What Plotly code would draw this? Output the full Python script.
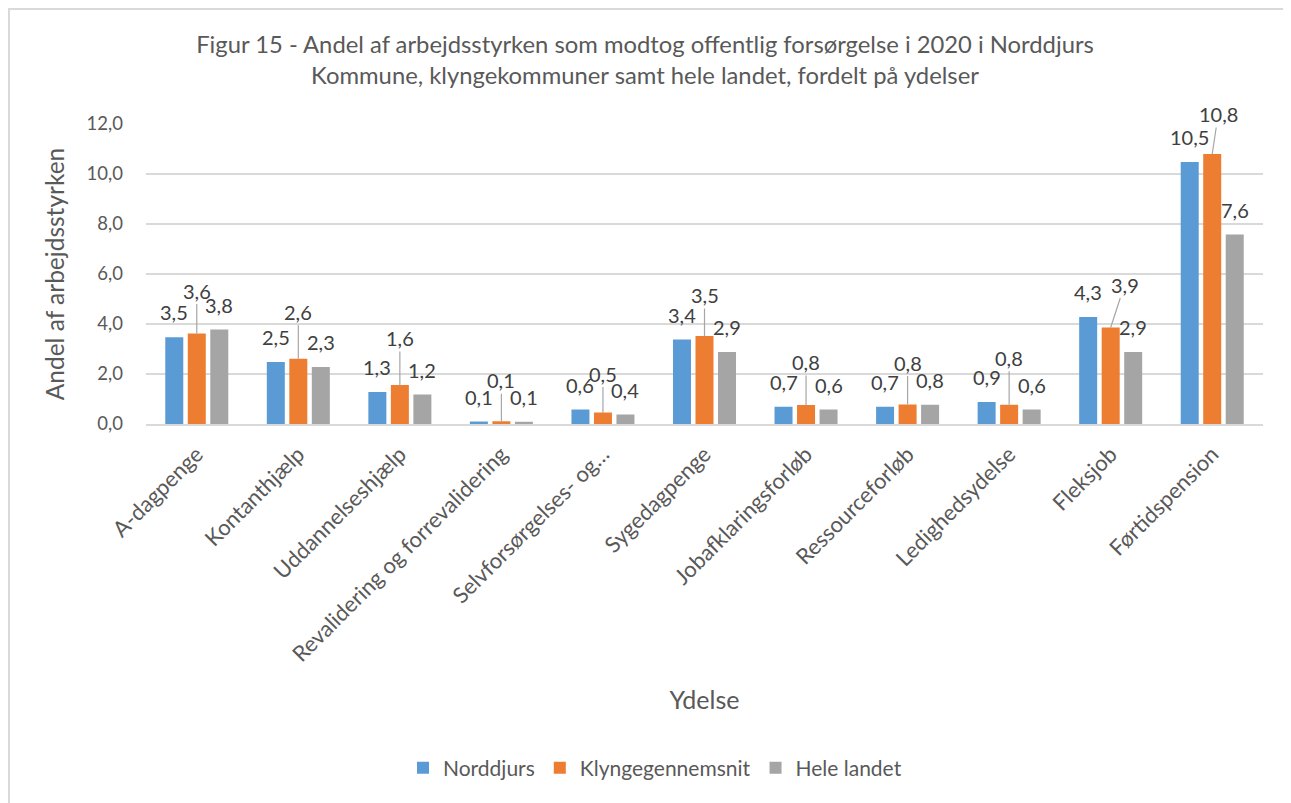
import plotly.graph_objects as go

categories = ["A-dagpenge", "Kontanthjælp", "Uddannelseshjælp", "Revalidering og forrevalidering",
              "Selvforsørgelses- og…", "Sygedagpenge", "Jobafklaringsforløb", "Ressourceforløb",
              "Ledighedsydelse", "Fleksjob", "Førtidspension"]
norddjurs = [3.47, 2.48, 1.28, 0.10, 0.58, 3.38, 0.69, 0.69, 0.88, 4.28, 10.48]
klynge = [3.62, 2.61, 1.56, 0.11, 0.46, 3.52, 0.76, 0.78, 0.77, 3.86, 10.80]
hele_landet = [3.78, 2.28, 1.18, 0.09, 0.38, 2.88, 0.58, 0.77, 0.58, 2.88, 7.58]
series_names = ["Norddjurs", "Klyngegennemsnit", "Hele landet"]
y_ticks = [0, 2, 4, 6, 8, 10, 12]

colors = ["#5B9BD5", "#ED7D31", "#A5A5A5"]
FONT = "Lato"
TXT = "#595959"
LBL = "#404040"
bargap = 0.335
slot = (1 - bargap) / 3

W, H = 1283, 795
ML, MR, MT, MB = 138, 28, 116, 379
PW, PH = W - ML - MR, H - MT - MB

# label offsets for the orange (leader-line) labels in pixels
klynge_ax = [0, 0, 0, 0, 0, 0, 0, 0, 0, 14, 6]
klynge_ay = [-43, -47, -47, -41, -39, -41, -43, -42, -47, -43, -40]

fig = go.Figure()
for name, vals, col in zip(series_names, [norddjurs, klynge, hele_landet], colors):
    fig.add_trace(go.Bar(x=list(range(len(categories))), y=vals, name=name,
                         marker=dict(color=col, line=dict(width=0))))

def fmt(v):
    return f"{v:.1f}".replace(".", ",")

annotations = []
for k, vals in enumerate([norddjurs, klynge, hele_landet]):
    for i, v in enumerate(vals):
        xpos = i + (k - 1) * slot
        if k == 1:
            annotations.append(dict(x=xpos, y=v, xref="x", yref="y", text=fmt(v),
                                    showarrow=True, arrowhead=0, arrowwidth=1.2,
                                    arrowcolor="#A6A6A6", ax=klynge_ax[i], ay=klynge_ay[i],
                                    font=dict(family=FONT, size=20, color=LBL)))
        else:
            annotations.append(dict(x=xpos, y=v, xref="x", yref="y", text=fmt(v),
                                    showarrow=False, yshift=25, yanchor="middle",
                                    font=dict(family=FONT, size=20, color=LBL)))

def px_x(p):
    return (p - ML) / PW

def px_y(p):
    return (H - MB - p) / PH

fig.update_layout(
    width=W, height=H,
    margin=dict(l=ML, r=MR, t=MT, b=MB),
    paper_bgcolor="white", plot_bgcolor="white",
    separators=", ",
    barmode="group", bargap=bargap, bargroupgap=0.2,
    title=dict(text="Figur 15 - Andel af arbejdsstyrken som modtog offentlig forsørgelse i 2020 i Norddjurs<br>Kommune, klyngekommuner samt hele landet, fordelt på ydelser",
               x=(645 - 8) / W, xanchor="center", y=1 - 45 / H, yanchor="top", yref="container",
               font=dict(family=FONT, size=23.8, color=TXT)),
    font=dict(family=FONT, color=TXT),
    legend=dict(orientation="h", x=px_x(647), xanchor="center",
                y=px_y(760), yanchor="middle",
                font=dict(family=FONT, size=21, color=TXT), itemwidth=30,
                traceorder="normal"),
    annotations=annotations,
    shapes=[
        dict(type="line", xref="paper", yref="paper", x0=px_x(0), x1=px_x(W),
             y0=px_y(1), y1=px_y(1), line=dict(color="#D9D9D9", width=2)),
        dict(type="line", xref="paper", yref="paper", x0=px_x(1), x1=px_x(1),
             y0=px_y(0), y1=px_y(H), line=dict(color="#D9D9D9", width=2)),
    ],
)
fig.update_xaxes(tickmode="array", tickvals=list(range(len(categories))), ticktext=categories,
                 tickangle=-45, tickfont=dict(family=FONT, size=22, color=TXT),
                 range=[-0.5, len(categories) - 0.5],
                 showline=True, linecolor="#D9D9D9", linewidth=1.5, ticks="",
                 ticklabelstandoff=7,
                 title=dict(text="Ydelse", font=dict(family=FONT, size=25, color=TXT), standoff=26),
                 automargin=False)
fig.update_yaxes(range=[0, 12], tickvals=y_ticks, tickformat=".1f",
                 tickfont=dict(family=FONT, size=18.5, color=TXT),
                 showgrid=True, gridcolor="#D9D9D9", gridwidth=1.5, zeroline=False,
                 ticklabelstandoff=22,
                 title=dict(text="Andel af arbejdsstyrken", font=dict(family=FONT, size=24.5, color=TXT), standoff=15),
                 automargin=False)

fig.write_html("out.html")
